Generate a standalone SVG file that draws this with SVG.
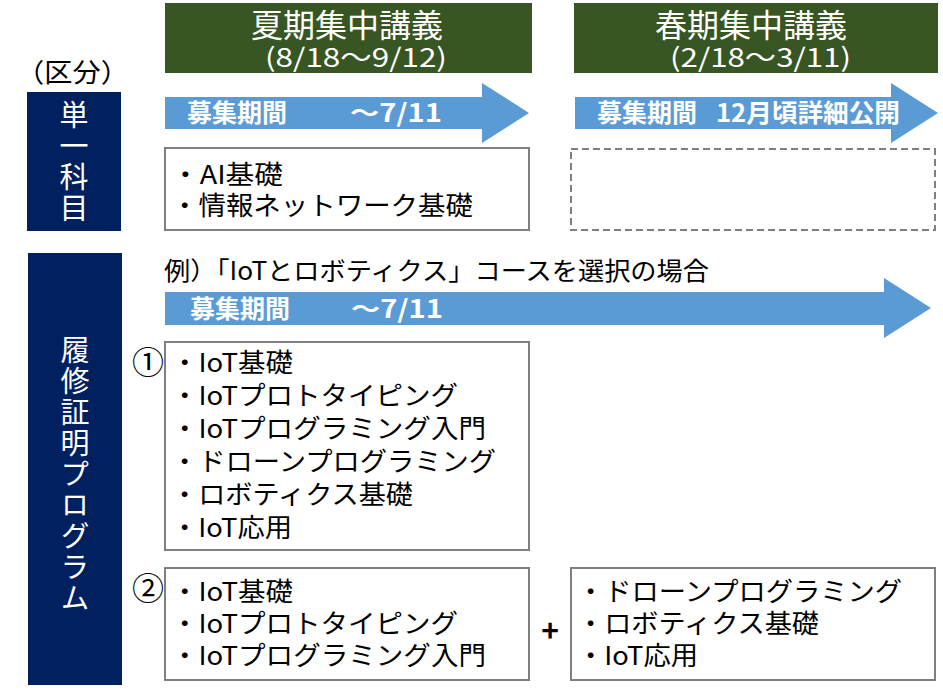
<svg xmlns="http://www.w3.org/2000/svg" width="943" height="691" viewBox="0 0 943 691">
<style>
.jp{font-family:"Noto Sans CJK JP","Noto Sans",sans-serif;}
.title{fill:#fff;font-size:32px;text-anchor:middle;}
.date{fill:#fff;font-size:26px;}
.side{fill:#fff;font-size:29px;writing-mode:vertical-rl;letter-spacing:2px;}
.lab{fill:#fff;font-size:25px;font-weight:bold;}
.item{fill:#000;font-size:26px;}
.note{fill:#000;font-size:25px;}
.num{fill:#000;font-size:32px;text-anchor:middle;}
.green{fill:#375623;}
.navy{fill:#002060;}
.arrow{fill:#5B9BD5;}
.box{fill:#fff;stroke:#7F7F7F;stroke-width:2;}
.dash{fill:#fff;stroke:#7F7F7F;stroke-width:2;stroke-dasharray:7 4;}
</style>
<rect width="943" height="691" fill="#fff"/>

<g id="summer-header">
<rect class="green" x="165" y="3" width="367" height="70"/>
<text class="jp title" x="347" y="37">夏期集中講義</text>
<text class="jp date" x="265" y="67" textLength="182" lengthAdjust="spacingAndGlyphs">(8/18～9/12)</text>
</g>
<g id="spring-header">
<rect class="green" x="574" y="3" width="364" height="70"/>
<text class="jp title" x="751" y="37">春期集中講義</text>
<text class="jp date" x="670" y="67" textLength="181" lengthAdjust="spacingAndGlyphs">(2/18～3/11)</text>
</g>

<g id="category-label">
<text class="jp" x="16" y="82" textLength="113" lengthAdjust="spacingAndGlyphs" style="font-size:26px;fill:#000">（区分）</text>
</g>

<g id="single-subject">
<rect class="navy" x="27" y="92" width="94" height="139"/>
<text class="jp side" x="74" y="100">単一科目</text>
</g>

<g id="certificate-program">
<rect class="navy" x="28" y="253" width="94" height="432"/>
<text class="jp side" x="75" y="335">履修証明プログラム</text>
</g>

<g id="connectors">
<g id="arrow-summer">
<polygon class="arrow" points="165,97 482,97 482,83 529,113 482,143 482,129 165,129"/>
<text class="jp lab" x="187" y="122">募集期間</text>
<text class="jp lab" x="350" y="122" textLength="92" lengthAdjust="spacingAndGlyphs">～7/11</text>
</g>
<g id="arrow-spring">
<polygon class="arrow" points="575,97 891,97 891,83 938,113 891,143 891,129 575,129"/>
<text class="jp lab" x="597" y="122">募集期間</text>
<text class="jp lab" x="716" y="122" textLength="184" lengthAdjust="spacingAndGlyphs">12月頃詳細公開</text>
</g>
<g id="arrow-program">
<polygon class="arrow" points="165,292 884,292 884,278 931,308 884,338 884,325 165,325"/>
<text class="jp lab" x="190" y="318">募集期間</text>
<text class="jp lab" x="351" y="318" textLength="92" lengthAdjust="spacingAndGlyphs">～7/11</text>
</g>
</g>

<g id="summer-single-box">
<rect class="box" x="165" y="148" width="364" height="82"/>
<text class="jp item" x="171" y="184" textLength="112" lengthAdjust="spacingAndGlyphs">・AI基礎</text>
<text class="jp item" x="171" y="215" textLength="302" lengthAdjust="spacingAndGlyphs">・情報ネットワーク基礎</text>
</g>

<g id="spring-single-box">
<rect class="dash" x="571" y="149" width="364" height="81"/>
</g>

<g id="example-note">
<text class="jp note" x="164" y="280" textLength="545" lengthAdjust="spacingAndGlyphs">例）「IoTとロボティクス」コースを選択の場合</text>
</g>

<g id="option1">
<text class="jp num" x="148" y="374">①</text>
<rect class="box" x="165" y="342" width="364" height="208"/>
<text class="jp item" x="171" y="372" textLength="122" lengthAdjust="spacingAndGlyphs">・IoT基礎</text>
<text class="jp item" x="171" y="405" textLength="287" lengthAdjust="spacingAndGlyphs">・IoTプロトタイピング</text>
<text class="jp item" x="171" y="438" textLength="315" lengthAdjust="spacingAndGlyphs">・IoTプログラミング入門</text>
<text class="jp item" x="171" y="471" textLength="325" lengthAdjust="spacingAndGlyphs">・ドローンプログラミング</text>
<text class="jp item" x="171" y="504" textLength="242" lengthAdjust="spacingAndGlyphs">・ロボティクス基礎</text>
<text class="jp item" x="171" y="537" textLength="121" lengthAdjust="spacingAndGlyphs">・IoT応用</text>
</g>

<g id="option2-core">
<text class="jp num" x="148" y="600">②</text>
<rect class="box" x="165" y="568" width="364" height="112"/>
<text class="jp item" x="171" y="601" textLength="122" lengthAdjust="spacingAndGlyphs">・IoT基礎</text>
<text class="jp item" x="171" y="633" textLength="287" lengthAdjust="spacingAndGlyphs">・IoTプロトタイピング</text>
<text class="jp item" x="171" y="665" textLength="315" lengthAdjust="spacingAndGlyphs">・IoTプログラミング入門</text>
</g>

<g id="plus">
<text class="jp" x="550" y="642" text-anchor="middle" style="font-size:30px;font-weight:bold;fill:#000">+</text>
</g>

<g id="option2-elective">
<rect class="box" x="571" y="568" width="364" height="112"/>
<text class="jp item" x="577" y="601" textLength="325" lengthAdjust="spacingAndGlyphs">・ドローンプログラミング</text>
<text class="jp item" x="577" y="633" textLength="242" lengthAdjust="spacingAndGlyphs">・ロボティクス基礎</text>
<text class="jp item" x="577" y="665" textLength="121" lengthAdjust="spacingAndGlyphs">・IoT応用</text>
</g>
</svg>
